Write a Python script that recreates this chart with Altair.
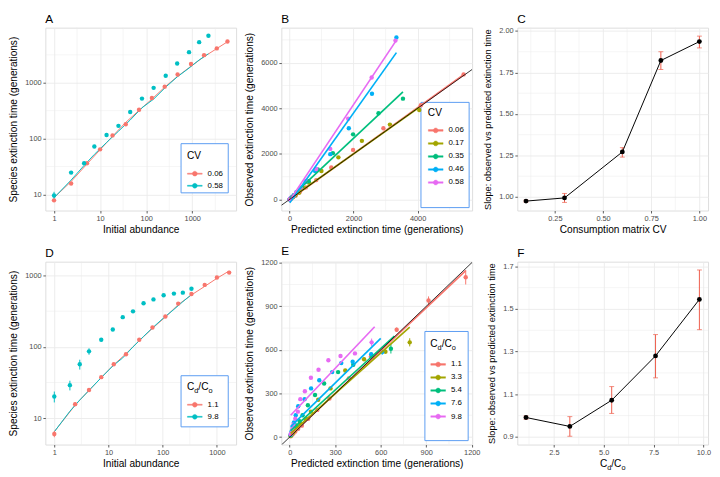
import altair as alt
import pandas as pd

FONT = "Liberation Sans"
GRID = "#EBEBEB"
BORDER = "#333333"
LABEL = "#4D4D4D"
LEGBOX = "#5B9CF2"
ERRC = "#EE5C4A"
HUE2 = ["#F8766D", "#00BFC4"]
HUE5 = ["#F8766D", "#A3A500", "#00BF7D", "#00B0F6", "#E76BF3"]

W, H = 194, 186

# ---------------- data ----------------
# Panels A/B : CV 0.06 and CV 0.58 (initial abundance, predicted time, observed time)
abund_cv006 = [1, 2.35, 5.2, 10, 18.6, 36, 70, 133, 252, 480, 940, 1800, 3400, 5800]
pred_cv006 = [8.7, 17, 35, 63, 110, 195, 320, 509, 835, 1303, 1985, 2931, 4100, 5435]
obs_cv006 = [7.8, 15.6, 36, 64, 114, 180, 329, 532, 852, 1408, 2175, 3124, 4130, 5485]
err_cv006 = [0.4, 0.5, 0.6, 0.8, 1, 1, 2, 3, 4, 6, 8, 10, 12, 15]

abund_cv058 = [1, 2.35, 4.5, 7.5, 13.8, 25, 45, 81, 145, 265, 470, 850, 1410, 2240]
pred_cv058 = [8.7, 18, 33, 52, 85, 135, 215, 356, 509, 835, 1272, 1832, 2565, 3308]
obs_cv058 = [9.5, 24.5, 36, 72, 116, 169, 300, 520, 810, 1335, 2220, 3540, 5350, 6968]
err_cv058 = [1.6, 1, 1.5, 1, 1, 1, 2, 3, 4, 6, 8, 10, 15, 20]

# Panel B : other CV levels (predicted, observed)
pred_cv017 = [9, 17, 34, 60, 105, 180, 300, 440, 611, 997, 1527, 2260, 3135, 4051]
obs_cv017 = [9, 17, 33, 60, 104, 178, 300, 500, 740, 1251, 1848, 2573, 3284, 3923]
pred_cv035 = [9, 17, 34, 55, 90, 150, 240, 380, 600, 885, 1354, 1985, 2779, 3542]
obs_cv035 = [10, 19, 40, 68, 115, 190, 310, 500, 800, 1322, 2033, 2857, 3781, 4421]
pred_cv046 = [9, 17, 33, 52, 85, 135, 215, 340, 509, 800, 1272, 1852, 2575, 3338]
obs_cv046 = [10, 22, 42, 70, 120, 190, 320, 500, 780, 1250, 1990, 3127, 4634, 7107]
cv_labels = ["0.06", "0.17", "0.35", "0.46", "0.58"]
fitB_slope = [1.008, 0.994, 1.319, 1.977, 2.11]
fitB_icpt = [-8, 12, 47, -159, -57]

# Panel C
c_cv = [0.1, 0.3, 0.6, 0.8, 1.0]
c_slope = [0.975, 0.994, 1.271, 1.822, 1.936]
c_lo = [0.969, 0.967, 1.240, 1.768, 1.898]
c_hi = [0.981, 1.021, 1.297, 1.875, 1.969]

# Panels D/E : Cd/Co 1.1 and 9.8 (initial abundance, predicted, observed, error)
abund_r11 = [1, 2.42, 4.37, 7.34, 12.5, 21, 36.9, 64.7, 112, 193, 339, 595, 1000, 1683]
pred_r11 = [6.45, 15.2, 24.5, 37, 56, 80, 122, 182, 262, 390, 535, 705, 915, 1160]
obs_r11 = [6.0, 15.7, 24.8, 37.6, 57, 78.7, 126, 187, 266, 404, 552, 739, 940, 1100]
err_r11 = [0.6, 1.0, 0.8, 0.6, 0.8, 1, 1.5, 2, 3, 5, 8, 15, 28, 50]

abund_r98 = [1, 1.94, 2.95, 4.37, 7.34, 12, 18.3, 28.3, 44.3, 67.5, 104, 161, 235, 339]
pred_r98 = [6.45, 12.5, 18, 24.5, 37, 54, 70, 100, 140, 190, 255, 335, 430, 540]
obs_r98 = [20.1, 29, 57, 86.5, 126, 175, 261, 315, 408, 463, 529, 558, 576, 652]
err_r98 = [3.5, 4.5, 9, 9, 7, 6, 5, 5, 5, 6, 6, 7, 9, 26]

# Panel E : other Cd/Co levels (predicted, observed, error)
pred_r33 = [6.5, 13, 20, 30, 45, 70, 105, 140, 188, 269, 366, 490, 631, 791]
obs_r33 = [8, 17, 28, 42, 60, 90, 125, 175, 257, 335, 458, 536, 588, 652]
err_r33 = [1, 1, 2, 2, 3, 3, 4, 4, 5, 6, 8, 10, 14, 28]
pred_r54 = [6.5, 13, 20, 30, 45, 65, 85, 120, 167, 227, 319, 419, 545, 667]
obs_r54 = [12, 25, 40, 58, 80, 110, 150, 219, 290, 369, 447, 498, 552, 608]
err_r54 = [1, 2, 2, 3, 3, 4, 4, 5, 6, 7, 8, 10, 14, 33]
pred_r76 = [6.5, 13, 20, 28, 40, 56, 98, 141, 195, 280, 340, 415, 537, 610]
obs_r76 = [18, 40, 70, 100, 150, 212, 261, 335, 391, 447, 509, 518, 570, 586]
err_r76 = [2, 3, 4, 4, 5, 6, 6, 7, 8, 9, 10, 12, 15, 20]
ratio_labels = ["1.1", "3.3", "5.4", "7.6", "9.8"]
fitE_slope = [0.982, 0.932, 0.953, 1.024, 1.10]
fitE_icpt = [6, 20, 38, 65, 143]
fitE_xmax = [1160, 791, 690, 600, 560]

# Panel F
f_ratio = [1.1, 3.3, 5.4, 7.6, 9.8]
f_slope = [0.991, 0.949, 1.072, 1.280, 1.545]
f_lo = [0.983, 0.903, 1.010, 1.177, 1.403]
f_hi = [0.998, 0.995, 1.136, 1.380, 1.683]

# axes: domains, major ticks, minor grid
A_xdom, A_ydom = [0.649, 8933], [5.12, 9727]
A_xt, A_yt = [1, 10, 100, 1000], [10, 100, 1000]
A_xm, A_ym = [3.162, 31.62, 316.2, 3162], [31.62, 316.2, 3162]
B_xdom, B_ydom = [-254, 5700], [-483, 7534]
B_xt, B_yt = [0, 2000, 4000], [0, 2000, 4000, 6000]
B_xm, B_ym = [1000, 3000, 5000], [1000, 3000, 5000, 7000]
C_xdom, C_ydom = [0.055, 1.045], [0.918, 2.02]
C_xt, C_yt = [0.25, 0.5, 0.75, 1.0], [1.0, 1.25, 1.5, 1.75, 2.0]
C_xm, C_ym = [0.125, 0.375, 0.625, 0.875], [1.125, 1.375, 1.625, 1.875]
D_xdom, D_ydom = [0.684, 2259], [4.26, 1566]
D_xt, D_yt = [1, 10, 100, 1000], [10, 100, 1000]
D_xm, D_ym = [3.162, 31.62, 316.2], [31.62, 316.2]
E_xdom, E_ydom = [-55, 1202], [-51.4, 1207]
E_xt, E_yt = [0, 300, 600, 900, 1200], [0, 300, 600, 900, 1200]
E_xm, E_ym = [150, 450, 750, 1050], [150, 450, 750, 1050]
F_xdom, F_ydom = [0.665, 10.235], [0.864, 1.722]
F_xt, F_yt = [2.5, 5.0, 7.5, 10.0], [0.9, 1.1, 1.3, 1.5, 1.7]
F_xm, F_ym = [1.25, 3.75, 6.25, 8.75], [1.0, 1.2, 1.4, 1.6]

ONE = pd.DataFrame({"k": [0]})
SYM_THIN = "M-1,-0.07L1,-0.07L1,0.07L-1,0.07ZM0.33,0A0.33,0.33 0 1,1 -0.33,0A0.33,0.33 0 1,1 0.33,0Z"
SYM_THICK = "M-1,-0.11L1,-0.11L1,0.11L-1,0.11ZM0.33,0A0.33,0.33 0 1,1 -0.33,0A0.33,0.33 0 1,1 0.33,0Z"


# ---------------- helpers ----------------
def axis_def(values, fmt, title, tpad, tsize=10.3):
    kw = dict(values=values, format=fmt, grid=True, gridColor=GRID, gridWidth=0.9,
              domain=False, ticks=True, tickColor=BORDER, tickSize=2.5, tickWidth=0.8,
              labelFont=FONT, labelFontSize=7.5, labelColor=LABEL, labelPadding=1.8,
              labelFlush=False, labelOverlap=False, titleFont=FONT, titleFontSize=tsize,
              titleFontWeight="normal", titleColor="black", titlePadding=tpad)
    kw["title"] = title
    return alt.Axis(**kw)


def encoders(xdom, ydom, xt, yt, xfmt, yfmt, xtitle, ytitle, log=False, ytsize=10.3):
    if log:
        sx = alt.Scale(type="log", domain=xdom, nice=False)
        sy = alt.Scale(type="log", domain=ydom, nice=False)
    else:
        sx = alt.Scale(domain=xdom, nice=False, zero=False)
        sy = alt.Scale(domain=ydom, nice=False, zero=False)
    ax = axis_def(xt, xfmt, xtitle, 3)
    ay = axis_def(yt, yfmt, ytitle, 6, ytsize)
    return (lambda f: alt.X(f"{f}:Q", scale=sx, axis=ax),
            lambda f: alt.Y(f"{f}:Q", scale=sy, axis=ay))


def minor_grid(X, Y, xm, ym):
    gx = alt.Chart(pd.DataFrame({"gx": xm})).mark_rule(color=GRID, strokeWidth=0.5).encode(x=X("gx"))
    gy = alt.Chart(pd.DataFrame({"gy": ym})).mark_rule(color=GRID, strokeWidth=0.5).encode(y=Y("gy"))
    return [gx, gy]


def legend_box(x1, y1, x2, y2):
    return alt.Chart(ONE).mark_rect(fill="white", stroke=LEGBOX, strokeWidth=1).encode(
        x=alt.value(x1), x2=alt.value(x2), y=alt.value(y1), y2=alt.value(y2))


def legend_spec(name, title, lx, ly, rowpad, tpad, sym):
    expr = alt.ExprRef(expr=f"scale('{name}_color', datum.value)")
    kw = dict(orient="none", legendX=lx, legendY=ly, padding=0, symbolType=sym,
              symbolSize=225, symbolStrokeWidth=0.4, symbolFillColor=expr,
              symbolStrokeColor=expr, symbolOpacity=1, labelFont=FONT, labelFontSize=8,
              labelColor="black", labelOffset=5, rowPadding=rowpad, titleFont=FONT,
              titleFontSize=10.3, titleFontWeight="normal", titleColor="black",
              titlePadding=tpad)
    kw["title"] = title
    return alt.Legend(**kw)


EM = {"C": 0.722, "d": 0.556, "o": 0.556, "/": 0.278}
PIECES = [("C", False), ("d", True), ("/", False), ("C", False), ("o", True)]


def cdco_width(fs):
    return sum(EM[c] * (fs * 0.72 if s else fs) for c, s in PIECES)


def cdco_text(x0, base, fs):
    out = []
    x = x0
    for ch, sub in PIECES:
        s = fs * 0.72 if sub else fs
        dy = fs * 0.3 if sub else 0
        out.append(alt.Chart(ONE).mark_text(align="left", baseline="alphabetic", font=FONT,
                                             fontSize=s, color="black").encode(
            x=alt.value(x), y=alt.value(base + dy), text=alt.value(ch)))
        x += EM[ch] * s
    return out


def ptitle(t):
    return alt.TitleParams(text=t, anchor="start", frame="group", fontSize=12, font=FONT,
                           fontWeight="normal", color="black", offset=1)


# ---------------- Panel A ----------------
XA, YA = encoders(A_xdom, A_ydom, A_xt, A_yt, "d", "d", "Initial abundance",
                  "Species extinction time (generations)", log=True)
a06 = pd.DataFrame({"abund": abund_cv006, "pred": pred_cv006, "obs": obs_cv006, "err": err_cv006, "cv": "0.06"})
a58 = pd.DataFrame({"abund": abund_cv058, "pred": pred_cv058, "obs": obs_cv058, "err": err_cv058, "cv": "0.58"})
a_df = pd.concat([a06, a58], ignore_index=True)
a_df["lo"] = a_df["obs"] - a_df["err"]
a_df["hi"] = a_df["obs"] + a_df["err"]
bx2, by2 = W - 8, H - 18
bx1, by1 = bx2 - 48, by2 - 50
colA = alt.Color("cv:N", scale=alt.Scale(domain=["0.06", "0.58"], range=HUE2),
                 legend=legend_spec("pA", "CV", bx1 + 6, by1 + 7.6, 0.3, 4.6, SYM_THIN))
pA = alt.layer(
    *minor_grid(XA, YA, A_xm, A_ym),
    legend_box(bx1, by1, bx2, by2),
    alt.Chart(a_df).mark_line(strokeWidth=1).encode(x=XA("abund"), y=YA("pred"), color=colA),
    alt.Chart(a_df).mark_rule(strokeWidth=1).encode(x=XA("abund"), y=YA("lo"), y2=alt.Y2("hi"), color=colA),
    alt.Chart(a_df).mark_circle(size=20, opacity=1).encode(x=XA("abund"), y=YA("obs"), color=colA),
).properties(name="pA", width=W, height=H, title=ptitle("A"))

# ---------------- Panel B ----------------
XB, YB = encoders(B_xdom, B_ydom, B_xt, B_yt, "d", "d", "Predicted extinction time (generations)",
                  "Observed extinction time (generations)")
b_pred = [pred_cv006, pred_cv017, pred_cv035, pred_cv046, pred_cv058]
b_obs = [obs_cv006, obs_cv017, obs_cv035, obs_cv046, obs_cv058]
b_pts = pd.concat([pd.DataFrame({"pred": p, "obs": o, "cv": lab})
                   for p, o, lab in zip(b_pred, b_obs, cv_labels)], ignore_index=True)
rows = []
for lab, xs, sl, ic in zip(cv_labels, b_pred, fitB_slope, fitB_icpt):
    for xv in (min(xs), max(xs)):
        rows.append({"cv": lab, "px": xv, "py": ic + sl * xv})
b_fit = pd.DataFrame(rows)
b_ab = pd.DataFrame({"ax": B_xdom, "ay": B_xdom})
bx2, by2 = W - 3, H - 3
bx1, by1 = bx2 - 49, by2 - 107
colB = alt.Color("cv:N", scale=alt.Scale(domain=cv_labels, range=HUE5),
                 legend=legend_spec("pB", "CV", bx1 + 7, by1 + 5.6, 1.25, 4.6, SYM_THICK))
pB = alt.layer(
    *minor_grid(XB, YB, B_xm, B_ym),
    legend_box(bx1, by1, bx2, by2),
    alt.Chart(b_pts).mark_circle(size=20, opacity=1).encode(x=XB("pred"), y=YB("obs"), color=colB),
    alt.Chart(b_fit).mark_line(strokeWidth=1.7, clip=True).encode(x=XB("px"), y=YB("py"), color=colB),
    alt.Chart(b_ab).mark_line(color="black", strokeWidth=0.8, clip=True).encode(x=XB("ax"), y=YB("ay")),
).properties(name="pB", width=W, height=H, title=ptitle("B"))

# ---------------- Panel C ----------------
XC, YC = encoders(C_xdom, C_ydom, C_xt, C_yt, ".2f", ".2f", "Consumption matrix CV",
                  "Slope: observed vs predicted extinction time", ytsize=9.4)
c_df = pd.DataFrame({"cv": c_cv, "s": c_slope, "lo": c_lo, "hi": c_hi})
pC = alt.layer(
    *minor_grid(XC, YC, C_xm, C_ym),
    alt.Chart(c_df).mark_rule(color=ERRC, strokeWidth=1).encode(x=XC("cv"), y=YC("lo"), y2=alt.Y2("hi")),
    alt.Chart(c_df).mark_tick(color=ERRC, orient="horizontal", size=5, thickness=1).encode(x=XC("cv"), y=YC("lo")),
    alt.Chart(c_df).mark_tick(color=ERRC, orient="horizontal", size=5, thickness=1).encode(x=XC("cv"), y=YC("hi")),
    alt.Chart(c_df).mark_line(color="black", strokeWidth=1).encode(x=XC("cv"), y=YC("s")),
    alt.Chart(c_df).mark_circle(color="black", size=24, opacity=1).encode(x=XC("cv"), y=YC("s")),
).properties(name="pC", width=W, height=H, title=ptitle("C"))

# ---------------- Panel D ----------------
XD, YD = encoders(D_xdom, D_ydom, D_xt, D_yt, "d", "d", "Initial abundance",
                  "Species extinction time (generations)", log=True)
d11 = pd.DataFrame({"abund": abund_r11, "pred": pred_r11, "obs": obs_r11, "err": err_r11, "r": "1.1"})
d98 = pd.DataFrame({"abund": abund_r98, "pred": pred_r98, "obs": obs_r98, "err": err_r98, "r": "9.8"})
d_df = pd.concat([d11, d98], ignore_index=True)
d_df["lo"] = d_df["obs"] - d_df["err"]
d_df["hi"] = d_df["obs"] + d_df["err"]
bx2, by2 = W - 8, H - 18
bx1, by1 = bx2 - 48, by2 - 52
colD = alt.Color("r:N", scale=alt.Scale(domain=["1.1", "9.8"], range=HUE2),
                 legend=legend_spec("pD", None, bx1 + 6, by1 + 29 - 7.5, 0.3, 0, SYM_THIN))
pD = alt.layer(
    *minor_grid(XD, YD, D_xm, D_ym),
    legend_box(bx1, by1, bx2, by2),
    alt.Chart(d_df).mark_line(strokeWidth=1).encode(x=XD("abund"), y=YD("pred"), color=colD),
    alt.Chart(d_df).mark_rule(strokeWidth=1).encode(x=XD("abund"), y=YD("lo"), y2=alt.Y2("hi"), color=colD),
    alt.Chart(d_df).mark_circle(size=20, opacity=1).encode(x=XD("abund"), y=YD("obs"), color=colD),
    *cdco_text(bx1 + 6, by1 + 14.2, 10.3),
).properties(name="pD", width=W, height=H, title=ptitle("D"))

# ---------------- Panel E ----------------
XE, YE = encoders(E_xdom, E_ydom, E_xt, E_yt, "d", "d", "Predicted extinction time (generations)",
                  "Observed extinction time (generations)")
e_pred = [pred_r11, pred_r33, pred_r54, pred_r76, pred_r98]
e_obs = [obs_r11, obs_r33, obs_r54, obs_r76, obs_r98]
e_err = [err_r11, err_r33, err_r54, err_r76, err_r98]
e_pts = pd.concat([pd.DataFrame({"pred": p, "obs": o, "err": e, "r": lab})
                   for p, o, e, lab in zip(e_pred, e_obs, e_err, ratio_labels)], ignore_index=True)
e_pts["lo"] = e_pts["obs"] - e_pts["err"]
e_pts["hi"] = e_pts["obs"] + e_pts["err"]
rows = []
for lab, xs, sl, ic, xm in zip(ratio_labels, e_pred, fitE_slope, fitE_icpt, fitE_xmax):
    for xv in (min(xs), xm):
        rows.append({"r": lab, "px": xv, "py": ic + sl * xv})
e_fit = pd.DataFrame(rows)
e_ab = pd.DataFrame({"ax": E_xdom, "ay": E_xdom})
bx2, by2 = W - 4, H - 4
bx1, by1 = bx2 - 44, by2 - 111
colE = alt.Color("r:N", scale=alt.Scale(domain=ratio_labels, range=HUE5),
                 legend=legend_spec("pE", None, bx1 + 5.5, by1 + 33 - 7.5, 1.25, 0, SYM_THICK))
pE = alt.layer(
    *minor_grid(XE, YE, E_xm, E_ym),
    legend_box(bx1, by1, bx2, by2),
    alt.Chart(e_pts).mark_rule(strokeWidth=1).encode(x=XE("pred"), y=YE("lo"), y2=alt.Y2("hi"), color=colE),
    alt.Chart(e_pts).mark_circle(size=20, opacity=1).encode(x=XE("pred"), y=YE("obs"), color=colE),
    alt.Chart(e_fit).mark_line(strokeWidth=1.7, clip=True).encode(x=XE("px"), y=YE("py"), color=colE),
    alt.Chart(e_ab).mark_line(color="black", strokeWidth=0.8, clip=True).encode(x=XE("ax"), y=YE("ay")),
    *cdco_text(bx1 + 5.5, by1 + 16, 10.3),
).properties(name="pE", width=W, height=H, title=ptitle("E"))

# ---------------- Panel F ----------------
XF, YF = encoders(F_xdom, F_ydom, F_xt, F_yt, ".1f", ".1f", None,
                  "Slope: observed vs predicted extinction time", ytsize=9.4)
f_df = pd.DataFrame({"r": f_ratio, "s": f_slope, "lo": f_lo, "hi": f_hi})
fw = cdco_width(10.3)
pF = alt.layer(
    *minor_grid(XF, YF, F_xm, F_ym),
    alt.Chart(f_df).mark_rule(color=ERRC, strokeWidth=1).encode(x=XF("r"), y=YF("lo"), y2=alt.Y2("hi")),
    alt.Chart(f_df).mark_tick(color=ERRC, orient="horizontal", size=5, thickness=1).encode(x=XF("r"), y=YF("lo")),
    alt.Chart(f_df).mark_tick(color=ERRC, orient="horizontal", size=5, thickness=1).encode(x=XF("r"), y=YF("hi")),
    alt.Chart(f_df).mark_line(color="black", strokeWidth=1).encode(x=XF("r"), y=YF("s")),
    alt.Chart(f_df).mark_circle(color="black", size=24, opacity=1).encode(x=XF("r"), y=YF("s")),
    *cdco_text(W / 2 - fw / 2, H + 23, 10.3),
).properties(name="pF", width=W, height=H, title=ptitle("F"))

chart = alt.concat(
    pA, pB, pC, pD, pE, pF, columns=3, spacing={"row": 52, "column": 46}, bounds="flush"
).resolve_scale(x="independent", y="independent", color="independent").properties(
    padding=0
).configure_view(stroke=BORDER, strokeWidth=1).configure(font=FONT, background="white")

chart.save("out.html", embed_options={"renderer": "svg", "actions": False})
